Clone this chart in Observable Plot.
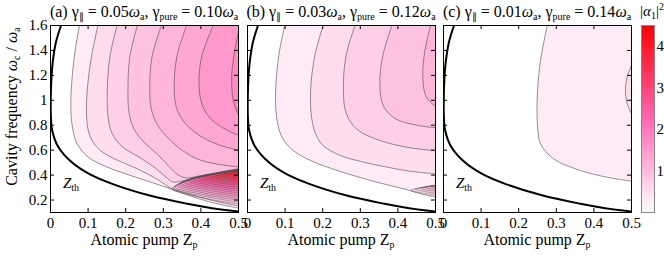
<!DOCTYPE html>
<html><head><meta charset="utf-8">
<script src="https://cdn.jsdelivr.net/npm/d3@7"></script>
<script src="https://cdn.jsdelivr.net/npm/@observablehq/plot@0.6"></script>
<style>
body{margin:0;background:#fff;}
#wrap{position:relative;width:664px;height:259px;overflow:hidden;background:#fff;font-family:"Liberation Serif",serif;color:#000;}
.t{position:absolute;white-space:nowrap;line-height:15px;height:15px;}
.t sub{font-size:10px;vertical-align:-3px;line-height:0;}
.t sup{font-size:10px;vertical-align:6px;line-height:0;}
svg{position:absolute;top:0;overflow:visible;}
</style></head><body><div id="wrap"></div>
<script>
// ---------- data ----------
const xDomain = [0, 0.5];
const yDomain = [0.1, 1.6];
const xTicks = [0, 0.1, 0.2, 0.3, 0.4, 0.5];
const yTicks = [0.2, 0.4, 0.6, 0.8, 1.0, 1.2, 1.4, 1.6];
const cbarTicks = [1, 2, 3, 4];
const cbarDomain = [0, 2.25, 4.5];
const cbarColors = ["#ffffff", "#ff66b2", "#ff0000"];

// threshold curve Z_th (same in all panels)
const zthCurve = [[0.028,1.6],[0.014,1.46],[0.005,1.28],[0.001,1.06],[0.001,0.87],[0.0045,0.758],[0.02,0.63],[0.056,0.505],[0.104,0.408],[0.166,0.328],[0.264,0.236],[0.364,0.17],[0.43,0.135],[0.5,0.108]];

// panel (a): contour lines and their levels
const levelsA = [0.2,0.4,0.6,0.8,1.0,1.2,1.4,1.6];
const contoursA = [
 [[0.077,1.6],[0.066,1.41],[0.058,1.2],[0.054,0.98],[0.058,0.79],[0.071,0.65],[0.1,0.545],[0.15,0.465],[0.2,0.41],[0.26,0.35],[0.3,0.31],[0.322,0.288],[0.36,0.245],[0.43,0.18],[0.5,0.135]],
 [[0.126,1.6],[0.109,1.35],[0.098,1.09],[0.096,0.87],[0.104,0.72],[0.128,0.61],[0.17,0.53],[0.22,0.465],[0.27,0.39],[0.3,0.335],[0.321,0.293],[0.36,0.255],[0.43,0.197],[0.5,0.152]],
 [[0.177,1.6],[0.158,1.35],[0.151,1.09],[0.153,0.87],[0.163,0.74],[0.19,0.63],[0.235,0.545],[0.275,0.465],[0.305,0.39],[0.325,0.345],[0.345,0.35],[0.37,0.37],[0.393,0.389],[0.438,0.415],[0.469,0.432],[0.5,0.447]],
 [[0.231,1.6],[0.211,1.35],[0.206,1.09],[0.209,0.9],[0.222,0.77],[0.25,0.66],[0.285,0.565],[0.315,0.47],[0.34,0.4],[0.36,0.378],[0.38,0.383],[0.4,0.396],[0.438,0.418],[0.469,0.435],[0.5,0.451]],
 [[0.295,1.6],[0.27,1.35],[0.264,1.1],[0.268,0.93],[0.285,0.8],[0.315,0.69],[0.35,0.6],[0.39,0.53],[0.44,0.49],[0.5,0.465]],
 [[0.362,1.6],[0.336,1.35],[0.329,1.1],[0.335,0.94],[0.357,0.82],[0.395,0.72],[0.45,0.64],[0.5,0.6]],
 [[0.433,1.6],[0.402,1.35],[0.395,1.12],[0.405,0.95],[0.43,0.84],[0.47,0.76],[0.5,0.72]],
 [[0.5,1.55],[0.49,1.4],[0.482,1.2],[0.486,1.0],[0.5,0.88]]
];
// panel (a): bright tongue near threshold (nested contours)
const tongueLevelsA = [0.6,0.8,1.0,1.2,1.4,1.6,1.8,2.0,2.2,2.4,2.6,2.8,3.0,3.2,3.4,3.6,3.8,4.0,4.2];
const tongueEdgeA = [[0.5,0.443],[0.469,0.428],[0.438,0.411],[0.415,0.398],[0.393,0.384],[0.37,0.364],[0.349,0.341],[0.335,0.318]];
const tongueTipsA = [[0.323,0.289],[0.327,0.296],[0.331,0.304],[0.336,0.314],[0.342,0.323],[0.348,0.332],[0.355,0.341],[0.363,0.35],[0.372,0.359],[0.381,0.367],[0.391,0.376],[0.401,0.383],[0.412,0.39],[0.424,0.397],[0.436,0.404],[0.449,0.411],[0.462,0.418],[0.476,0.426],[0.49,0.434]];
const tongueMidsA = [[0.41,0.215],[0.414,0.227],[0.416,0.239],[0.418,0.251],[0.421,0.263],[0.424,0.276],[0.428,0.288],[0.432,0.3],[0.436,0.313],[0.44,0.325],[0.446,0.338],[0.45,0.35],[0.456,0.362],[0.462,0.374],[0.468,0.386],[0.474,0.397],[0.481,0.408],[0.488,0.42],[0.495,0.432]];
const tongueExitsA = [0.168,0.183,0.198,0.213,0.228,0.243,0.258,0.273,0.288,0.303,0.318,0.333,0.348,0.363,0.378,0.393,0.408,0.423,0.436];

// panel (b)
const levelsB = [0.2,0.4,0.6,0.8,1.0];
const contoursB = [
 [[0.099,1.6],[0.083,1.357],[0.075,1.089],[0.077,0.875],[0.09,0.715],[0.117,0.608],[0.17,0.514],[0.242,0.434],[0.331,0.354],[0.402,0.3],[0.431,0.277],[0.46,0.25],[0.5,0.225]],
 [[0.201,1.6],[0.179,1.357],[0.168,1.089],[0.17,0.875],[0.18,0.74],[0.2,0.64],[0.245,0.56],[0.3,0.51],[0.364,0.468],[0.43,0.432],[0.5,0.41]],
 [[0.286,1.6],[0.262,1.357],[0.255,1.1],[0.262,0.9],[0.29,0.77],[0.35,0.68],[0.43,0.62],[0.5,0.597]],
 [[0.384,1.6],[0.36,1.36],[0.352,1.12],[0.362,0.95],[0.395,0.85],[0.45,0.8],[0.5,0.78]],
 [[0.487,1.6],[0.472,1.4],[0.466,1.2],[0.475,1.03],[0.5,0.95]]
];
const tongueLevelsB = [0.4,0.6,0.8,1.0,1.2];
const tongueEdgeB = [[0.5,0.317],[0.475,0.306],[0.45,0.292],[0.431,0.277]];
const tongueTipsB = [[0.434,0.277],[0.446,0.286],[0.459,0.295],[0.473,0.303],[0.487,0.31]];
const tongueMidsB = [[0.467,0.255],[0.473,0.267],[0.48,0.279],[0.487,0.29],[0.494,0.302]];
const tongueExitsB = [0.24,0.255,0.27,0.285,0.3];

// panel (c)
const levelsC = [0.2,0.4];
const contoursC = [
 [[0.276,1.6],[0.258,1.32],[0.249,1.0],[0.251,0.76],[0.258,0.651],[0.293,0.53],[0.364,0.437],[0.435,0.383],[0.5,0.351]],
 [[0.5,1.28],[0.488,1.18],[0.484,1.08],[0.488,0.98],[0.5,0.89]]
];

// ---------- layout ----------
const FT = 25, FB = 212;
const PW = 188, PH = FB - FT, M = 30;
function buildLoops(edge, tips, mids, exits) {
  return tips.map((t, i) => [...edge.filter(u => u[0] > t[0] + 0.006), t, mids[i], [xDomain[1], exits[i]]]);
}
const panels = [
  {key:"(a)", left:50,  g1:"0.05", g2:"0.10", levels:levelsA, contours:contoursA, tl:tongueLevelsA, tongue:buildLoops(tongueEdgeA, tongueTipsA, tongueMidsA, tongueExitsA), yAxis:true},
  {key:"(b)", left:247, g1:"0.03", g2:"0.12", levels:levelsB, contours:contoursB, tl:tongueLevelsB, tongue:buildLoops(tongueEdgeB, tongueTipsB, tongueMidsB, tongueExitsB), yAxis:false},
  {key:"(c)", left:443, g1:"0.01", g2:"0.14", levels:levelsC, contours:contoursC, tl:[], tongue:[], yAxis:false}
];

const cmap = d3.scaleLinear().domain(cbarDomain).range(cbarColors).interpolate(d3.interpolateRgb);
const fmt = d => String(+d.toFixed(2));
const X = d => d[0], Y = d => d[1];
const wrap = document.getElementById("wrap");
const font = {fontFamily:"'Liberation Serif', serif", fontSize:"15px", background:"transparent", overflow:"visible", color:"#000"};

function closeMain(pts) {
  const first = pts[0], last = pts[pts.length - 1];
  const out = [...pts, [xDomain[1] + 0.1, last[1]]];
  if (first[1] >= yDomain[1]) out.push([xDomain[1] + 0.1, yDomain[1] + 0.2], [first[0], yDomain[1] + 0.2]);
  else out.push([xDomain[1] + 0.1, first[1]]);
  return out;
}
function closeLoop(pts) {
  const first = pts[0], last = pts[pts.length - 1];
  return [...pts, [xDomain[1] + 0.1, last[1]], [xDomain[1] + 0.1, first[1]]];
}

panels.forEach(p => {
  const marks = [];
  p.contours.forEach((pts, i) => marks.push(Plot.line(closeMain(pts), {x:X, y:Y, fill:cmap(p.levels[i] + 0.1), stroke:"none", curve:"catmull-rom", clip:true})));
  p.tongue.forEach((pts, i) => marks.push(Plot.line(closeLoop(pts), {x:X, y:Y, fill:cmap(p.tl[i] + 0.1), stroke:"none", curve:"catmull-rom", clip:true})));
  p.contours.forEach(pts => marks.push(Plot.line(pts, {x:X, y:Y, stroke:"#4a4a4a", strokeWidth:0.6, curve:"catmull-rom", clip:true})));
  p.tongue.forEach(pts => marks.push(Plot.line(pts, {x:X, y:Y, stroke:"#555", strokeWidth:0.5, curve:"catmull-rom", clip:true})));
  marks.push(Plot.line(zthCurve, {x:X, y:Y, stroke:"#000", strokeWidth:2, curve:"catmull-rom", clip:true}));
  marks.push(Plot.tickX(xTicks, {x:d=>d, insetTop:PH - 4, stroke:"#000"}));
  marks.push(Plot.tickX(xTicks, {x:d=>d, insetBottom:PH - 4, stroke:"#000"}));
  marks.push(Plot.tickY(yTicks, {y:d=>d, insetRight:PW - 4, stroke:"#000"}));
  marks.push(Plot.tickY(yTicks, {y:d=>d, insetLeft:PW - 4, stroke:"#000"}));
  marks.push(Plot.frame({stroke:"#000", strokeWidth:1}));
  marks.push(Plot.axisX(xTicks, {tickSize:0, tickPadding:5, tickFormat:fmt, label:null}));
  if (p.yAxis) marks.push(Plot.axisY(yTicks, {tickSize:0, tickPadding:3, tickFormat:fmt, label:null}));
  const svg = Plot.plot({
    width: PW + 2*M, height: 259, marginLeft: M, marginRight: M, marginTop: FT, marginBottom: 259 - FB,
    x: {domain: xDomain, axis: null}, y: {domain: yDomain, axis: null},
    style: font, marks
  });
  svg.style.left = (p.left - M) + "px";
  wrap.appendChild(svg);

  const title = document.createElement("div");
  title.className = "t";
  title.style.cssText = `left:${p.left-20}px;top:4px;width:${PW+40}px;text-align:center;font-size:16px;`;
  title.innerHTML = `${p.key} γ<sub>∥</sub> = ${p.g1}<i>ω</i><sub>a</sub>, γ<sub>pure</sub> = ${p.g2}<i>ω</i><sub>a</sub>`;
  wrap.appendChild(title);

  const xl = document.createElement("div");
  xl.className = "t";
  xl.style.cssText = `left:${p.left}px;top:232px;width:${PW}px;text-align:center;font-size:16px;`;
  xl.innerHTML = `Atomic pump Z<sub>p</sub>`;
  wrap.appendChild(xl);

  const zl = document.createElement("div");
  zl.className = "t";
  zl.style.cssText = `left:${p.left+13}px;top:176px;font-size:15px;`;
  zl.innerHTML = `<i>Z</i><sub>th</sub>`;
  wrap.appendChild(zl);
});

const yl = document.createElement("div");
yl.className = "t";
yl.style.cssText = `left:${11-110}px;top:${106-7.5}px;width:220px;text-align:center;font-size:16px;transform:rotate(-90deg);`;
yl.innerHTML = `Cavity frequency <i>ω</i><sub>c</sub> / <i>ω</i><sub>a</sub>`;
wrap.appendChild(yl);

const cb = Plot.plot({
  width: 664 - 641, height: 259, marginLeft: 0, marginRight: 10, marginTop: FT, marginBottom: 259 - FB,
  x: {domain: [0, 1], axis: null},
  y: {domain: [0, cbarDomain[2]], axis: null},
  color: {type: "linear", domain: cbarDomain, range: cbarColors, interpolate: "rgb"},
  style: font,
  marks: [
    Plot.raster({fill: (x, y) => y, x1: 0, x2: 1, y1: 0, y2: cbarDomain[2], width: 2, height: 300}),
    Plot.frame({stroke: "#888"}),
    Plot.axisY(cbarTicks, {anchor: "right", tickSize: 0, tickPadding: 2, tickFormat: fmt, label: null})
  ]
});
cb.style.left = "641px";
wrap.appendChild(cb);
const cl = document.createElement("div");
cl.className = "t";
cl.style.cssText = `left:640px;top:4px;font-size:15px;`;
cl.innerHTML = `|<i>α</i><sub>1</sub>|<sup>2</sup>`;
wrap.appendChild(cl);
</script></body></html>
